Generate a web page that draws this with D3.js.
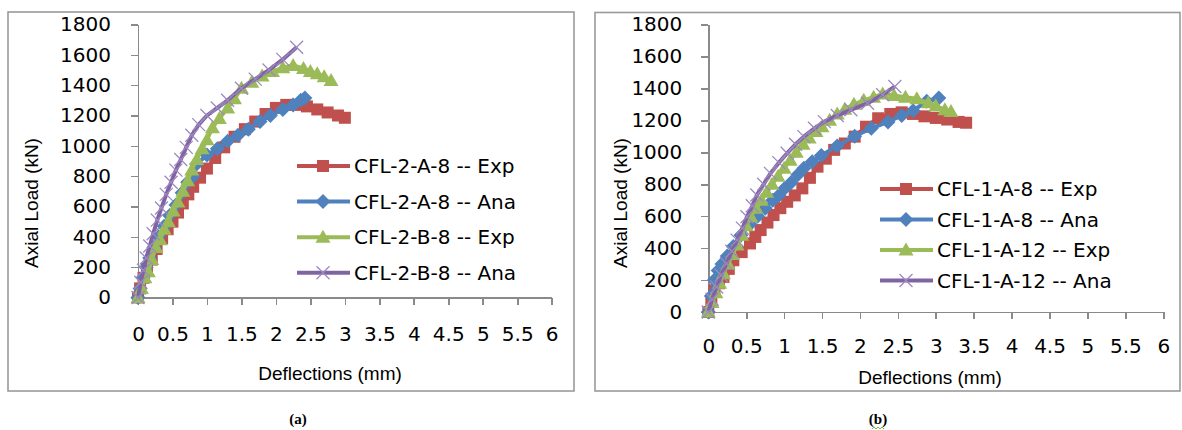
<!DOCTYPE html>
<meta charset="utf-8">
<style>
body { margin: 0; background: #fff; }
svg text { font-family: "DejaVu Sans", sans-serif; fill: #000; }
.axis path, .axis line { stroke: #8a8a8a; stroke-width: 1.6px; shape-rendering: crispEdges; }
.axis text { font-size: 20px; }
.frame { fill: none; stroke: #9a9a9a; stroke-width: 1.6px; }
.title { font-family: "Liberation Sans", Arial, sans-serif !important; font-size: 19px; }
.legend text { font-size: 20px; }
.caption { font-family: "Liberation Serif", serif !important; font-size: 15px; font-weight: bold; }
</style>
<svg width="1182" height="430"></svg>
<script src="https://d3js.org/d3.v7.min.js"></script>
<script>

var xTicks = [0, 0.5, 1, 1.5, 2, 2.5, 3, 3.5, 4, 4.5, 5, 5.5, 6];
var yTicks = [0, 200, 400, 600, 800, 1000, 1200, 1400, 1600, 1800];

// chart (a)
var namesA = ["CFL-2-A-8 -- Exp", "CFL-2-A-8 -- Ana", "CFL-2-B-8 -- Exp", "CFL-2-B-8 -- Ana"];
var a8ExpX = [0, 0.03, 0.08, 0.13, 0.2, 0.27, 0.35, 0.43, 0.5, 0.58, 0.65, 0.73, 0.8, 0.9, 1.0, 1.12, 1.25, 1.4, 1.55, 1.7, 1.85, 2.0, 2.15, 2.3, 2.45, 2.6, 2.75, 2.9, 3.0];
var a8ExpY = [0, 60, 130, 190, 250, 320, 390, 450, 500, 560, 620, 680, 730, 790, 850, 920, 990, 1060, 1110, 1160, 1210, 1250, 1270, 1270, 1260, 1240, 1220, 1200, 1185];
var a8AnaX = [0, 0.03, 0.07, 0.12, 0.17, 0.23, 0.3, 0.38, 0.46, 0.55, 0.64, 0.72, 0.8, 0.85, 1.0, 1.15, 1.3, 1.45, 1.6, 1.77, 1.92, 2.1, 2.25, 2.36, 2.42];
var a8AnaY = [0, 60, 130, 200, 260, 330, 400, 470, 540, 610, 690, 760, 800, 880, 940, 980, 1030, 1070, 1110, 1160, 1200, 1240, 1270, 1300, 1315];
var b8ExpX = [0, 0.05, 0.1, 0.15, 0.2, 0.26, 0.32, 0.38, 0.44, 0.51, 0.58, 0.65, 0.72, 0.78, 0.85, 0.93, 1.0, 1.08, 1.18, 1.3, 1.4, 1.5, 1.65, 1.8, 1.95, 2.1, 2.25, 2.4, 2.5, 2.6, 2.7, 2.8];
var b8ExpY = [0, 60, 130, 170, 250, 330, 380, 450, 500, 570, 630, 700, 770, 840, 910, 980, 1040, 1120, 1180, 1250, 1310, 1380, 1420, 1460, 1490, 1515, 1530, 1510, 1490, 1475, 1455, 1430];
var b8AnaX = [0, 0.04, 0.08, 0.12, 0.17, 0.22, 0.28, 0.34, 0.41, 0.48, 0.55, 0.62, 0.7, 0.78, 0.88, 1.0, 1.15, 1.3, 1.5, 1.7, 1.9, 2.1, 2.3];
var b8AnaY = [0, 100, 180, 260, 340, 420, 510, 590, 680, 760, 840, 910, 990, 1070, 1140, 1200, 1250, 1300, 1380, 1440, 1500, 1570, 1650];

// chart (b)
var namesB = ["CFL-1-A-8 -- Exp", "CFL-1-A-8 -- Ana", "CFL-1-A-12 -- Exp", "CFL-1-A-12 -- Ana"];
var c8ExpX = [0, 0.04, 0.08, 0.14, 0.2, 0.27, 0.33, 0.44, 0.55, 0.62, 0.69, 0.78, 0.86, 0.95, 1.04, 1.14, 1.24, 1.34, 1.44, 1.55, 1.66, 1.8, 1.93, 2.08, 2.24, 2.4, 2.55, 2.7, 2.85, 3.0, 3.15, 3.3, 3.4];
var c8ExpY = [0, 70, 136, 180, 220, 270, 324, 375, 429, 470, 513, 560, 607, 650, 690, 730, 774, 840, 910, 960, 1015, 1055, 1098, 1160, 1213, 1240, 1250, 1240, 1225, 1215, 1205, 1190, 1185];
var c8AnaX = [0, 0.04, 0.08, 0.13, 0.18, 0.25, 0.33, 0.43, 0.55, 0.65, 0.75, 0.85, 0.93, 1.0, 1.09, 1.18, 1.26, 1.37, 1.49, 1.7, 1.93, 2.15, 2.37, 2.55, 2.7, 2.88, 3.04];
var c8AnaY = [0, 100, 200, 260, 300, 350, 410, 480, 550, 600, 650, 700, 730, 770, 810, 860, 900, 940, 980, 1040, 1100, 1150, 1190, 1230, 1260, 1320, 1340];
var c12ExpX = [0, 0.05, 0.1, 0.15, 0.2, 0.26, 0.32, 0.38, 0.44, 0.5, 0.56, 0.63, 0.7, 0.77, 0.84, 0.92, 1.0, 1.08, 1.16, 1.25, 1.33, 1.42, 1.5, 1.6, 1.7, 1.8, 1.92, 2.05, 2.18, 2.3, 2.45, 2.6, 2.75, 2.9, 3.0, 3.12, 3.2];
var c12ExpY = [0, 60, 120, 180, 240, 300, 360, 420, 480, 540, 596, 650, 700, 750, 800, 850, 900, 950, 1000, 1050, 1090, 1130, 1160, 1200, 1240, 1270, 1300, 1325, 1345, 1365, 1355, 1345, 1335, 1310, 1290, 1266, 1255];
var c12AnaX = [0, 0.05, 0.11, 0.17, 0.24, 0.31, 0.38, 0.45, 0.51, 0.58, 0.64, 0.73, 0.82, 0.93, 1.04, 1.15, 1.26, 1.4, 1.53, 1.7, 1.88, 2.1, 2.3, 2.46];
var c12AnaY = [0, 80, 157, 230, 303, 380, 450, 525, 596, 665, 732, 800, 868, 935, 994, 1050, 1098, 1150, 1192, 1230, 1266, 1307, 1360, 1412];

var colors = ["#c0504d", "#4f81bd", "#9bbb59", "#8064a2"];
var shapes = ["square", "diamond", "triangle", "cross"];

var svg = d3.select("svg");

var panels = [
  {
    box: [8, 12, 574, 391], xr: [138, 551.7], yr: [297.5, 24.5], ylabX: 31, xlab: [330, 380],
    legend: [297, 166, 35.6], caption: [298, 424, "(a)"], tickPad: [20, 22], names: namesA,
    series: [[a8ExpX, a8ExpY], [a8AnaX, a8AnaY], [b8ExpX, b8ExpY], [b8AnaX, b8AnaY]]
  },
  {
    box: [595, 12.5, 1180, 391], xr: [708.3, 1163.3], yr: [312, 24.5], ylabX: 620, xlab: [930, 384],
    legend: [880, 189, 30.5], caption: [878, 424, "(b)"], tickPad: [19, 20], names: namesB,
    series: [[c8ExpX, c8ExpY], [c8AnaX, c8AnaY], [c12ExpX, c12ExpY], [c12AnaX, c12AnaY]]
  }
];

function marker(sel, shape, color) {
  if (shape == "square") {
    sel.append("rect").attr("x", -6).attr("y", -6).attr("width", 12).attr("height", 12)
      .attr("fill", color);
  } else if (shape == "diamond") {
    sel.append("path").attr("d", "M0,-7.5L7.5,0L0,7.5L-7.5,0Z").attr("fill", color);
  } else if (shape == "triangle") {
    sel.append("path").attr("d", "M0,-7.5L7.5,5.5L-7.5,5.5Z").attr("fill", color);
  } else {
    sel.append("path").attr("d", "M-6.5,-6.5L6.5,6.5M-6.5,6.5L6.5,-6.5")
      .attr("stroke", "#9d89c0").attr("stroke-width", 1.3).attr("fill", "none");
  }
}

panels.forEach(function(p) {
  svg.append("rect").attr("class", "frame")
    .attr("x", p.box[0]).attr("y", p.box[1])
    .attr("width", p.box[2] - p.box[0]).attr("height", p.box[3] - p.box[1]);

  var x = d3.scaleLinear().domain([0, 6]).range(p.xr),
      y = d3.scaleLinear().domain([0, 1800]).range(p.yr);

  svg.append("g")
      .attr("class", "axis")
      .attr("transform", "translate(0," + p.yr[0] + ")")
      .call(d3.axisBottom(x).tickValues(xTicks).tickSize(7).tickSizeOuter(0).tickPadding(p.tickPad[1]).tickFormat(d3.format("")))
      .call(function(g) { g.selectAll("text").attr("fill", "#000"); });

  svg.append("g")
      .attr("class", "axis")
      .attr("transform", "translate(" + p.xr[0] + ",0)")
      .call(d3.axisLeft(y).tickValues(yTicks).tickSize(7).tickSizeOuter(0).tickPadding(p.tickPad[0]).tickFormat(d3.format("d")))
      .call(function(g) { g.selectAll("text").attr("fill", "#000"); });

  svg.append("text").attr("class", "title")
      .attr("transform", "translate(" + p.ylabX + ",203) rotate(-90)")
      .attr("text-anchor", "middle").attr("dy", "0.35em")
      .text("Axial Load (kN)");

  svg.append("text").attr("class", "title")
      .attr("x", p.xlab[0]).attr("y", p.xlab[1])
      .attr("text-anchor", "middle")
      .text("Deflections (mm)");

  var line = d3.line().x(function(d) { return x(d[0]); }).y(function(d) { return y(d[1]); });

  p.series.forEach(function(s, i) {
    var pts = s[0].map(function(v, j) { return [v, s[1][j]]; });
    svg.append("path").attr("d", line(pts))
      .attr("fill", "none").attr("stroke", colors[i]).attr("stroke-width", 4)
      .attr("stroke-linejoin", "round");
    svg.append("g").selectAll("g")
      .data(pts)
      .enter().append("g")
        .attr("transform", function(d) { return "translate(" + x(d[0]) + "," + y(d[1]) + ")"; })
        .each(function() { marker(d3.select(this), shapes[i], colors[i]); });
  });

  var lg = svg.append("g").attr("class", "legend");
  p.names.forEach(function(n, i) {
    var ly = p.legend[1] + i * p.legend[2];
    lg.append("line").attr("x1", p.legend[0]).attr("x2", p.legend[0] + 53)
      .attr("y1", ly).attr("y2", ly).attr("stroke", colors[i]).attr("stroke-width", 4);
    marker(lg.append("g").attr("transform", "translate(" + (p.legend[0] + 26) + "," + ly + ")"), shapes[i], colors[i]);
    lg.append("text").attr("x", p.legend[0] + 57).attr("y", ly).attr("dy", "0.36em").text(n);
  });

  svg.append("text").attr("class", "caption")
    .attr("x", p.caption[0]).attr("y", p.caption[1])
    .attr("text-anchor", "middle").text(p.caption[2]);
});

// spell-check squiggle under (b)
svg.append("path")
  .attr("d", "M872,429l2,-2l2,2l2,-2l2,2l2,-2l2,2")
  .attr("fill", "none").attr("stroke", "#6fbf3f").attr("stroke-width", 1);

</script>
